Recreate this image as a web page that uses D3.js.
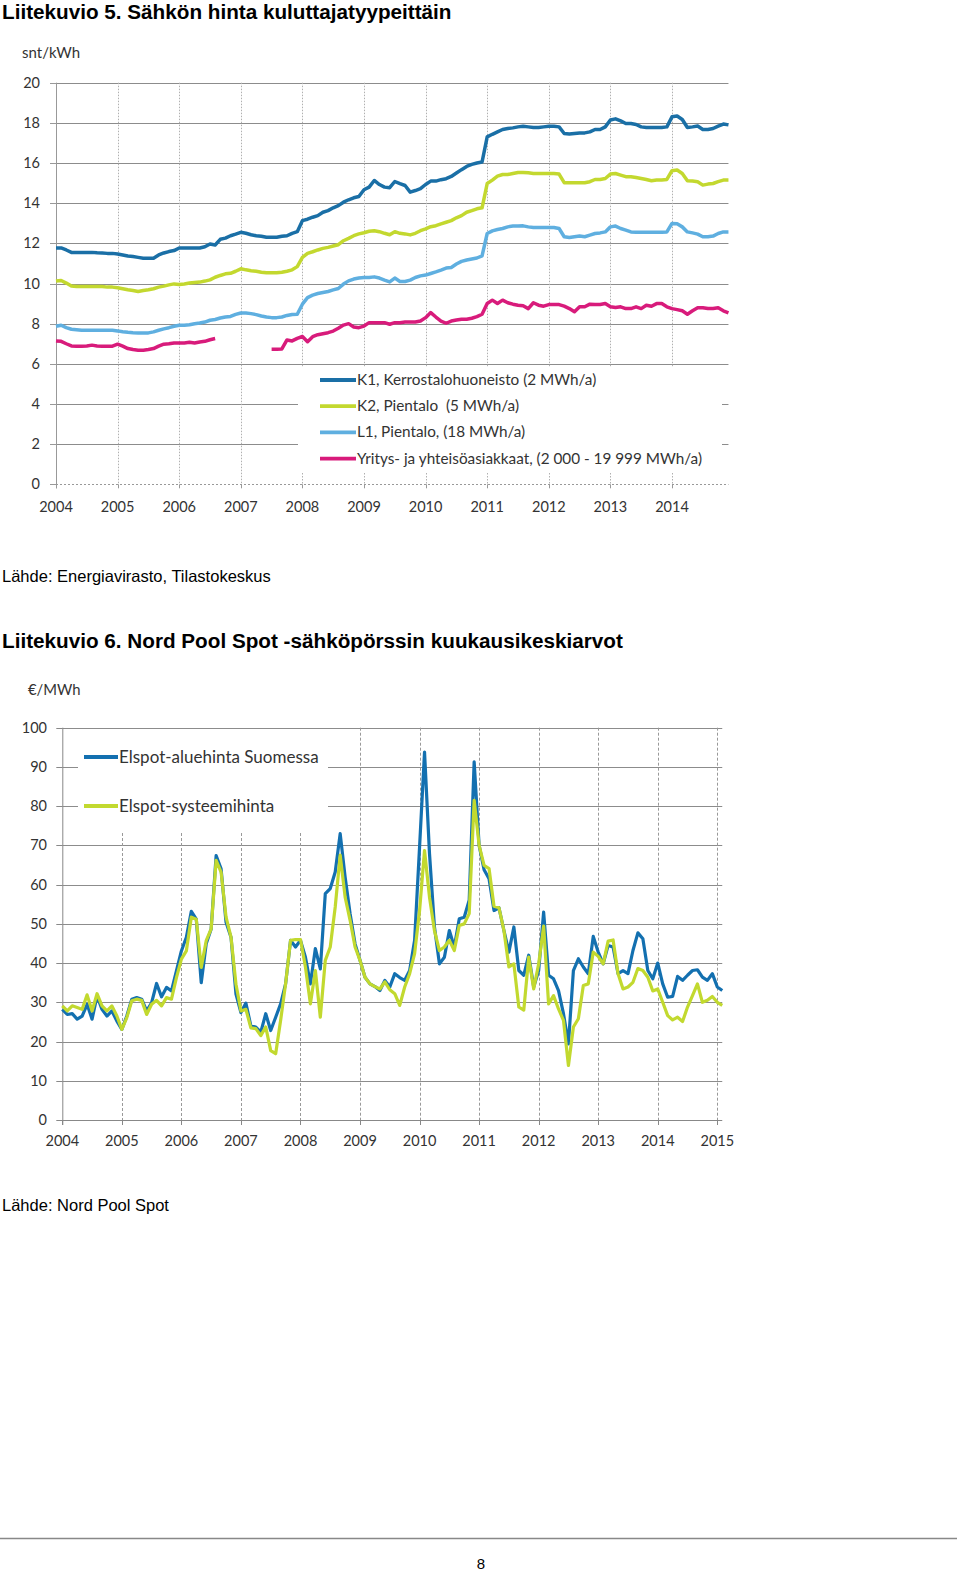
<!DOCTYPE html>
<html><head><meta charset="utf-8">
<script src="https://cdn.jsdelivr.net/npm/d3@7"></script>
<style>
html,body{margin:0;padding:0;background:#fff;}
svg{display:block;}
</style></head><body>
<script>
// ---------- Chart 1: Sähkön hinta kuluttajatyypeittäin (snt/kWh), monthly Jan 2004 - Dec 2014 ----------
const years1 = [2004,2005,2006,2007,2008,2009,2010,2011,2012,2013,2014];
const yTicks1 = [0,2,4,6,8,10,12,14,16,18,20];
const seriesNames1 = ["K1, Kerrostalohuoneisto (2 MWh/a)","K2, Pientalo  (5 MWh/a)","L1, Pientalo, (18 MWh/a)","Yritys- ja yhteisöasiakkaat, (2 000 - 19 999 MWh/a)"];
const K1 = [11.77,11.77,11.67,11.55,11.55,11.55,11.55,11.55,11.53,11.52,11.5,11.5,
11.47,11.42,11.37,11.34,11.3,11.26,11.26,11.26,11.42,11.52,11.59,11.64,
11.77,11.77,11.77,11.77,11.77,11.83,11.97,11.92,12.2,12.26,12.38,12.46,
12.55,12.5,12.43,12.38,12.35,12.3,12.3,12.3,12.35,12.38,12.5,12.58,
13.13,13.2,13.3,13.38,13.55,13.63,13.77,13.88,14.05,14.17,14.27,14.33,
14.67,14.8,15.13,14.93,14.8,14.77,15.08,14.97,14.88,14.55,14.63,14.72,
14.93,15.1,15.1,15.17,15.22,15.33,15.5,15.67,15.83,15.93,16.0,16.05,
17.3,17.43,17.55,17.67,17.72,17.75,17.8,17.83,17.8,17.77,17.77,17.8,
17.83,17.83,17.8,17.47,17.44,17.47,17.5,17.5,17.55,17.67,17.67,17.8,
18.14,18.2,18.1,17.97,17.97,17.92,17.8,17.77,17.77,17.77,17.77,17.8,
18.3,18.34,18.17,17.77,17.8,17.84,17.67,17.67,17.72,17.84,17.94,17.9];
const K2 = [10.12,10.15,10.02,9.87,9.85,9.85,9.85,9.85,9.85,9.85,9.82,9.82,
9.79,9.74,9.69,9.65,9.6,9.65,9.69,9.74,9.82,9.87,9.93,9.98,
9.95,9.98,10.02,10.05,10.07,10.12,10.18,10.31,10.4,10.48,10.51,10.61,
10.73,10.68,10.64,10.61,10.56,10.53,10.53,10.53,10.56,10.61,10.68,10.84,
11.3,11.5,11.58,11.67,11.75,11.8,11.87,11.93,12.13,12.25,12.38,12.47,
12.53,12.6,12.63,12.58,12.5,12.43,12.58,12.5,12.47,12.42,12.5,12.63,
12.72,12.83,12.88,12.97,13.05,13.13,13.27,13.38,13.55,13.63,13.72,13.77,
14.98,15.15,15.35,15.43,15.43,15.48,15.53,15.53,15.51,15.48,15.48,15.48,
15.48,15.48,15.45,15.02,15.02,15.02,15.02,15.02,15.07,15.18,15.18,15.23,
15.45,15.48,15.4,15.32,15.32,15.28,15.23,15.18,15.12,15.15,15.15,15.18,
15.62,15.65,15.48,15.12,15.1,15.07,14.9,14.95,14.98,15.07,15.15,15.15];
const L1 = [7.87,7.92,7.8,7.72,7.7,7.67,7.67,7.67,7.67,7.67,7.67,7.67,
7.64,7.6,7.57,7.55,7.54,7.54,7.54,7.59,7.67,7.74,7.8,7.87,
7.92,7.92,7.95,8.0,8.03,8.08,8.17,8.21,8.28,8.33,8.36,8.46,
8.53,8.53,8.5,8.45,8.38,8.33,8.3,8.3,8.33,8.41,8.46,8.47,
8.97,9.3,9.42,9.5,9.55,9.6,9.68,9.75,9.97,10.13,10.22,10.27,
10.3,10.3,10.33,10.27,10.17,10.08,10.27,10.1,10.1,10.17,10.3,10.38,
10.42,10.5,10.58,10.67,10.77,10.8,10.97,11.1,11.17,11.22,11.27,11.38,
12.49,12.62,12.69,12.74,12.82,12.86,12.86,12.87,12.82,12.79,12.79,12.79,
12.79,12.79,12.74,12.33,12.29,12.33,12.36,12.33,12.41,12.49,12.52,12.57,
12.82,12.86,12.74,12.66,12.57,12.55,12.55,12.55,12.55,12.55,12.55,12.57,
12.99,12.97,12.82,12.57,12.52,12.46,12.33,12.33,12.36,12.49,12.57,12.57];
const YR = [7.14,7.12,7.0,6.89,6.88,6.88,6.89,6.93,6.89,6.88,6.88,6.88,
6.98,6.88,6.76,6.71,6.68,6.68,6.71,6.76,6.88,6.98,7.0,7.04,
7.04,7.04,7.07,7.04,7.09,7.12,7.2,7.26,null,null,null,null,
null,null,null,null,null,null,6.73,6.73,6.74,7.19,7.14,7.27,
7.36,7.1,7.35,7.45,7.5,7.55,7.63,7.77,7.93,8.0,7.83,7.8,
7.88,8.05,8.05,8.05,8.05,7.97,8.05,8.05,8.08,8.08,8.08,8.13,
8.3,8.55,8.33,8.13,8.02,8.13,8.18,8.22,8.22,8.27,8.35,8.47,
9.0,9.17,9.0,9.17,9.04,8.97,8.92,8.89,8.75,9.04,8.92,8.87,
8.95,8.95,8.95,8.87,8.75,8.59,8.84,8.84,8.97,8.95,8.95,9.0,
8.84,8.8,8.84,8.75,8.75,8.84,8.75,8.92,8.87,9.0,9.0,8.84,
8.75,8.7,8.64,8.47,8.64,8.79,8.79,8.75,8.75,8.79,8.64,8.54];

// ---------- Chart 2: Nord Pool Spot monthly averages (€/MWh), Jan 2004 - Feb 2015 ----------
const years2 = [2004,2005,2006,2007,2008,2009,2010,2011,2012,2013,2014,2015];
const yTicks2 = [0,10,20,30,40,50,60,70,80,90,100];
const seriesNames2 = ["Elspot-aluehinta Suomessa","Elspot-systeemihinta"];
const FI = [28.2,26.9,27.1,25.7,26.5,29.5,25.7,31.6,28.2,26.5,27.8,25.2,
23.1,26.5,30.8,31.2,30.8,27.8,29.9,34.8,31.4,33.8,32.9,38.0,
43.1,46.6,53.2,51.2,35.0,44.9,48.7,67.4,64.0,50.4,46.6,32.1,
27.4,29.8,24.0,23.7,22.4,27.1,22.8,26.2,29.6,34.7,45.8,44.1,
45.8,41.5,34.7,43.7,38.5,57.7,59.0,63.2,73.0,61.9,52.6,44.9,
40.7,36.4,34.7,34.0,33.0,35.6,33.9,37.3,36.3,35.6,38.1,45.8,
69.6,93.8,67.9,49.2,39.8,41.5,48.3,44.1,51.3,51.7,56.0,91.3,
70.0,63.8,61.5,53.4,54.1,48.3,42.8,49.2,38.1,36.9,42.0,33.9,
38.1,53.0,36.9,36.0,33.0,27.1,19.4,38.1,41.1,39.0,37.3,46.8,
42.8,39.8,44.5,44.1,37.3,38.1,37.3,43.2,47.7,46.2,38.1,36.0,
40.0,34.7,31.3,31.5,36.6,35.6,36.9,38.1,38.3,36.4,35.6,37.3,
33.9,33.0];
const SYS = [29.1,27.8,29.1,28.7,28.2,31.9,27.8,32.2,29.1,27.8,29.1,26.5,
23.1,26.1,30.4,30.8,30.5,26.9,29.5,30.5,29.1,31.2,30.8,36.3,
41.0,43.1,51.7,51.2,38.9,45.7,48.7,66.2,63.2,51.7,46.6,34.6,
27.8,28.2,23.5,23.3,21.5,23.7,17.7,16.9,25.4,34.7,45.8,46.0,
46.0,39.0,29.6,38.1,26.2,40.7,44.1,54.3,67.5,56.8,50.9,44.1,
40.7,36.4,34.7,34.0,33.4,35.2,33.2,32.2,29.2,33.9,37.3,42.4,
53.4,68.7,56.8,48.3,43.2,44.1,45.8,43.2,49.6,50.0,52.6,81.5,
70.0,64.9,64.1,54.5,54.1,48.3,39.0,39.8,28.8,28.0,41.5,33.4,
39.8,49.4,29.6,31.7,28.3,25.4,13.9,23.7,25.8,34.3,34.7,42.8,
41.7,39.8,45.6,45.9,37.3,33.4,33.9,35.1,38.6,38.1,36.4,32.9,
33.4,30.0,26.6,25.5,26.2,25.1,28.8,31.7,34.7,30.0,30.5,31.5,
30.0,29.2];

const W = 960, H = 1572;
const chartFont = "Lato, 'Open Sans', sans-serif";
const docFont = "'Liberation Sans', Arial, sans-serif";
const svg = d3.select("body").append("svg").attr("width", W).attr("height", H);
svg.append("rect").attr("width", W).attr("height", H).attr("fill", "#fff");

const gridH = "#8c8c8c", gridV = "#b0b0b0", txt = "#333";
const monthToYear = m => 2004 + m / 12;

// ----- Document text -----
function docText(x, y, s, size, bold) {
  svg.append("text").attr("x", x).attr("y", y).attr("font-family", docFont)
    .attr("font-size", size).attr("font-weight", bold ? "bold" : "normal")
    .attr("fill", "#000").text(s);
}
docText(2, 18.5, "Liitekuvio 5. Sähkön hinta kuluttajatyypeittäin", 20.7, true);
docText(2, 582, "Lähde: Energiavirasto, Tilastokeskus", 16.5, false);
docText(2, 647.5, "Liitekuvio 6. Nord Pool Spot -sähköpörssin kuukausikeskiarvot", 20.7, true);
docText(2, 1211, "Lähde: Nord Pool Spot", 16.5, false);
svg.append("line").attr("x1", 0).attr("x2", 957).attr("y1", 1538.5).attr("y2", 1538.5)
  .attr("stroke", "#888").attr("stroke-width", 1.5);
svg.append("text").attr("x", 481).attr("y", 1569).attr("text-anchor", "middle")
  .attr("font-family", docFont).attr("font-size", 15).text("8");

// ================= Chart 1 =================
{
  const x = d3.scaleLinear().domain([2004, 2015]).range([56, 56 + 11 * 61.6]);
  const y = d3.scaleLinear().domain([0, 20]).range([484.3, 82.7]);
  const xEnd = x(monthToYear(K1.length - 1));
  const g = svg.append("g");
  const legBox = {x0: 298, x1: 722, y0: 367, y1: 473};

  yTicks1.filter(v => v > 0).forEach(v => {
    const yy = Math.round(y(v)) + 0.5;
    if (y(v) > legBox.y0 && y(v) < legBox.y1) {
      g.append("line").attr("x1", x(2004)).attr("x2", legBox.x0).attr("y1", yy).attr("y2", yy).attr("stroke", gridH);
      g.append("line").attr("x1", legBox.x1).attr("x2", xEnd).attr("y1", yy).attr("y2", yy).attr("stroke", gridH);
    } else {
      g.append("line").attr("x1", x(2004)).attr("x2", xEnd).attr("y1", yy).attr("y2", yy).attr("stroke", gridH);
    }
  });
  years1.filter(v => v > 2004).forEach(v => {
    const xx = Math.round(x(v)) + 0.5;
    if (xx > legBox.x0 && xx < legBox.x1) {
      g.append("line").attr("x1", xx).attr("x2", xx).attr("y1", y(20)).attr("y2", legBox.y0).attr("stroke", gridV).attr("stroke-dasharray", "1.5,1.5");
      g.append("line").attr("x1", xx).attr("x2", xx).attr("y1", legBox.y1).attr("y2", y(0)).attr("stroke", gridV).attr("stroke-dasharray", "1.5,1.5");
    } else {
      g.append("line").attr("x1", xx).attr("x2", xx).attr("y1", y(20)).attr("y2", y(0)).attr("stroke", gridV).attr("stroke-dasharray", "1.5,1.5");
    }
  });
  g.append("line").attr("x1", x(2004) + 0.5).attr("x2", x(2004) + 0.5).attr("y1", y(20)).attr("y2", y(0) + 4).attr("stroke", "#999");
  yTicks1.forEach(v => {
    g.append("line").attr("x1", x(2004) - 6).attr("x2", x(2004)).attr("y1", Math.round(y(v)) + 0.5).attr("y2", Math.round(y(v)) + 0.5).attr("stroke", "#999");
    g.append("text").attr("x", 40).attr("y", y(v) + 5).attr("text-anchor", "end")
      .attr("font-family", chartFont).attr("font-size", 14.5).attr("fill", txt).text(v);
  });
  g.append("line").attr("x1", x(2004)).attr("x2", xEnd).attr("y1", Math.round(y(0)) + 0.5).attr("y2", Math.round(y(0)) + 0.5)
    .attr("stroke", "#999").attr("stroke-dasharray", "2,2");
  years1.forEach(v => {
    g.append("line").attr("x1", Math.round(x(v)) + 0.5).attr("x2", Math.round(x(v)) + 0.5).attr("y1", y(0)).attr("y2", y(0) + 4).attr("stroke", "#999");
    g.append("text").attr("x", x(v)).attr("y", 511.5).attr("text-anchor", "middle")
      .attr("font-family", chartFont).attr("font-size", 14.5).attr("fill", txt).text(v);
  });
  svg.append("text").attr("x", 22).attr("y", 58).attr("font-family", chartFont).attr("font-size", 15).attr("fill", txt).text("snt/kWh");

  g.append("rect").attr("x", legBox.x0).attr("y", legBox.y0).attr("width", legBox.x1 - legBox.x0).attr("height", legBox.y1 - legBox.y0).attr("fill", "#fff");

  const colors1 = ["#1a6fa6", "#c3d82f", "#5fafe0", "#d81b7b"];
  const data1 = [K1, K2, L1, YR];
  const line = d3.line().defined(d => d != null).x((d, i) => x(monthToYear(i))).y(d => y(d)).curve(d3.curveLinear);
  data1.forEach((arr, k) => {
    g.append("path").datum(arr).attr("d", line).attr("fill", "none").attr("stroke", colors1[k])
      .attr("stroke-width", 3.5).attr("stroke-linejoin", "round").attr("stroke-linecap", "butt");
  });
  seriesNames1.forEach((s, k) => {
    const ly = 380 + k * 26.2;
    g.append("line").attr("x1", 320).attr("x2", 356).attr("y1", ly).attr("y2", ly).attr("stroke", colors1[k]).attr("stroke-width", 3.8);
    g.append("text").attr("x", 357).attr("y", ly + 5).attr("font-family", chartFont).attr("font-size", 15.3).attr("fill", txt)
      .attr("xml:space", "preserve").style("white-space", "pre").text(s);
  });
}

// ================= Chart 2 =================
{
  const x = d3.scaleLinear().domain([2004, 2015]).range([62.3, 717.3]);
  const y = d3.scaleLinear().domain([0, 100]).range([1120, 727.7]);
  const xEnd = x(monthToYear(FI.length - 1));
  const g = svg.append("g");
  const legBox = {x0: 78, x1: 328, y0: 735, y1: 833};

  yTicks2.filter(v => v > 0).forEach(v => {
    const yy = Math.round(y(v)) + 0.5;
    if (y(v) > legBox.y0 && y(v) < legBox.y1) {
      g.append("line").attr("x1", x(2004)).attr("x2", legBox.x0).attr("y1", yy).attr("y2", yy).attr("stroke", gridH);
      g.append("line").attr("x1", legBox.x1).attr("x2", xEnd).attr("y1", yy).attr("y2", yy).attr("stroke", gridH);
    } else {
      g.append("line").attr("x1", x(2004)).attr("x2", xEnd).attr("y1", yy).attr("y2", yy).attr("stroke", gridH);
    }
  });
  years2.filter(v => v > 2004).forEach(v => {
    const xx = Math.round(x(v)) + 0.5;
    const top = (xx > legBox.x0 && xx < legBox.x1) ? legBox.y1 : y(100);
    g.append("line").attr("x1", xx).attr("x2", xx).attr("y1", top).attr("y2", y(0)).attr("stroke", "#999").attr("stroke-dasharray", "3,2");
  });
  g.append("line").attr("x1", x(2004) + 0.5).attr("x2", x(2004) + 0.5).attr("y1", y(100)).attr("y2", y(0) + 5).attr("stroke", "#888");
  g.append("line").attr("x1", x(2004)).attr("x2", xEnd).attr("y1", Math.round(y(0)) + 0.5).attr("y2", Math.round(y(0)) + 0.5).attr("stroke", "#888");
  yTicks2.forEach(v => {
    g.append("line").attr("x1", x(2004) - 6).attr("x2", x(2004)).attr("y1", Math.round(y(v)) + 0.5).attr("y2", Math.round(y(v)) + 0.5).attr("stroke", "#888");
    g.append("text").attr("x", 47).attr("y", y(v) + 5).attr("text-anchor", "end")
      .attr("font-family", chartFont).attr("font-size", 14.5).attr("fill", txt).text(v);
  });
  years2.forEach(v => {
    g.append("line").attr("x1", Math.round(x(v)) + 0.5).attr("x2", Math.round(x(v)) + 0.5).attr("y1", y(0)).attr("y2", y(0) + 5).attr("stroke", "#888");
    g.append("text").attr("x", x(v)).attr("y", 1145.5).attr("text-anchor", "middle")
      .attr("font-family", chartFont).attr("font-size", 14.5).attr("fill", txt).text(v);
  });
  svg.append("text").attr("x", 28).attr("y", 694.5).attr("font-family", chartFont).attr("font-size", 14.8).attr("fill", txt).text("€/MWh");

  g.append("rect").attr("x", legBox.x0).attr("y", legBox.y0).attr("width", legBox.x1 - legBox.x0).attr("height", legBox.y1 - legBox.y0).attr("fill", "#fff");

  const colors2 = ["#1370b0", "#c2d92f"];
  const data2 = [FI, SYS];
  const line = d3.line().x((d, i) => x(monthToYear(i))).y(d => y(d));
  data2.forEach((arr, k) => {
    g.append("path").datum(arr).attr("d", line).attr("fill", "none").attr("stroke", colors2[k])
      .attr("stroke-width", 3.2).attr("stroke-linejoin", "round");
  });
  seriesNames2.forEach((s, k) => {
    const ly = 757 + k * 49;
    g.append("line").attr("x1", 84).attr("x2", 118).attr("y1", ly).attr("y2", ly).attr("stroke", colors2[k]).attr("stroke-width", 3.8);
    g.append("text").attr("x", 119).attr("y", ly + 6).attr("font-family", chartFont).attr("font-size", 17).attr("fill", txt).text(s);
  });
}
</script>
</body></html>
